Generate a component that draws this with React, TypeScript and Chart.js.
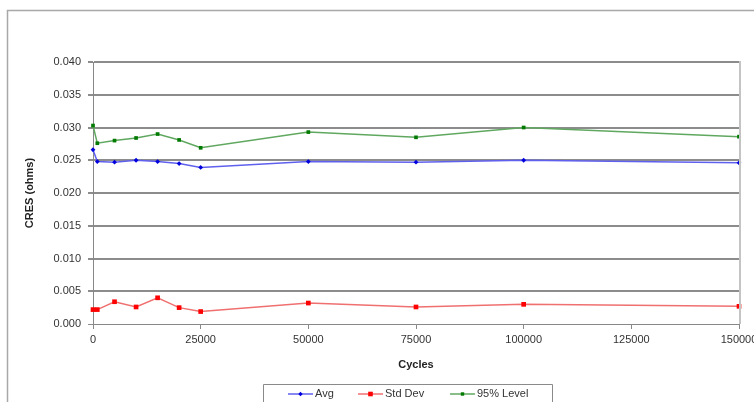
import React, { useEffect, useRef } from "react";
import { Chart, registerables } from "chart.js";

Chart.register(...registerables);

const cycles = [0, 1000, 5000, 10000, 15000, 20000, 25000, 50000, 75000, 100000, 150000];
const avgValues = [0.0266, 0.0248, 0.0247, 0.0250, 0.0248, 0.0245, 0.0239, 0.0248, 0.0247, 0.0250, 0.0246];
const stdDevValues = [0.0022, 0.0022, 0.0034, 0.0026, 0.0040, 0.0025, 0.0019, 0.0032, 0.0026, 0.0030, 0.0027];
const level95Values = [0.0303, 0.0276, 0.0280, 0.0284, 0.0290, 0.0281, 0.0269, 0.0293, 0.0285, 0.0300, 0.0286];
const seriesLabels = ["Avg", "Std Dev", "95% Level"];
const xTitle = "Cycles";
const yTitle = "CRES (ohms)";

const FONT = "'Liberation Sans', Arial, sans-serif";

const framePlugin = {
  id: "frame",
  beforeDraw(chart: any) {
    const ctx = chart.ctx;
    ctx.save();
    ctx.fillStyle = "#ffffff";
    ctx.fillRect(0, 0, chart.width, chart.height);
    ctx.strokeStyle = "#a8a8a8";
    ctx.lineWidth = 1.5;
    ctx.beginPath();
    ctx.moveTo(7.5, chart.height + 5);
    ctx.lineTo(7.5, 10.5);
    ctx.lineTo(chart.width + 5, 10.5);
    ctx.stroke();
    ctx.restore();
  },
  afterDraw(chart: any) {
    const ctx = chart.ctx;
    const area = chart.chartArea;
    ctx.save();
    ctx.strokeStyle = "#c4c4c4";
    ctx.lineWidth = 2;
    ctx.beginPath();
    ctx.moveTo(area.right + 1, area.top - 1);
    ctx.lineTo(area.right + 1, area.bottom);
    ctx.stroke();

    const boxL = 263.5, boxT = 384.5, boxR = 552.5;
    ctx.strokeStyle = "#8a8a8a";
    ctx.lineWidth = 1;
    ctx.beginPath();
    ctx.moveTo(boxL, chart.height + 5);
    ctx.lineTo(boxL, boxT);
    ctx.lineTo(boxR, boxT);
    ctx.lineTo(boxR, chart.height + 5);
    ctx.stroke();

    const starts = [288, 358, 450];
    const cy = 394;
    ctx.font = "11px " + FONT;
    ctx.textBaseline = "middle";
    ctx.textAlign = "left";
    chart.data.datasets.forEach((ds: any, i: number) => {
      const x0 = starts[i];
      ctx.strokeStyle = ds.borderColor;
      ctx.lineWidth = 1.5;
      ctx.beginPath();
      ctx.moveTo(x0, cy);
      ctx.lineTo(x0 + 25, cy);
      ctx.stroke();
      ctx.fillStyle = ds.pointBackgroundColor;
      const s = i === 1 ? 2.3 : 1.7;
      const mx = x0 + 12.5;
      if (i === 0) {
        ctx.beginPath();
        ctx.moveTo(mx, cy - 2.2);
        ctx.lineTo(mx + 2.2, cy);
        ctx.lineTo(mx, cy + 2.2);
        ctx.lineTo(mx - 2.2, cy);
        ctx.closePath();
        ctx.fill();
      } else {
        ctx.fillRect(mx - s, cy - s, 2 * s, 2 * s);
      }
      ctx.fillStyle = "#333333";
      ctx.fillText(ds.label, x0 + 27, cy);
    });
    ctx.restore();
  },
};

function makeData(values: number[]) {
  return cycles.map((c, i) => ({ x: c, y: values[i] }));
}

export default function App() {
  const ref = useRef<HTMLCanvasElement | null>(null);

  useEffect(() => {
    if (!ref.current) return;
    const chart = new Chart(ref.current, {
      type: "line",
      data: {
        datasets: [
          {
            label: seriesLabels[0],
            data: makeData(avgValues),
            borderColor: "#6060ee",
            backgroundColor: "#0000dd",
            pointBackgroundColor: "#0000dd",
            pointBorderColor: "#0000dd",
            pointBorderWidth: 0,
            pointStyle: "rectRot",
            pointRadius: 2.4,
            borderWidth: 1.5,
            tension: 0,
            clip: false,
          },
          {
            label: seriesLabels[1],
            data: makeData(stdDevValues),
            borderColor: "#f07070",
            backgroundColor: "#ff0000",
            pointBackgroundColor: "#ff0000",
            pointBorderColor: "#ff0000",
            pointBorderWidth: 0,
            pointStyle: "rect",
            pointRadius: 3.3,
            borderWidth: 1.5,
            tension: 0,
            clip: false,
          },
          {
            label: seriesLabels[2],
            data: makeData(level95Values),
            borderColor: "#60a860",
            backgroundColor: "#007a00",
            pointBackgroundColor: "#007a00",
            pointBorderColor: "#007a00",
            pointBorderWidth: 0,
            pointStyle: "rect",
            pointRadius: 2.6,
            borderWidth: 1.5,
            tension: 0,
            clip: false,
          },
        ],
      },
      options: {
        animation: false,
        responsive: false,
        maintainAspectRatio: false,
        layout: { padding: { top: 62, right: 15, left: 0, bottom: 0 } },
        plugins: {
          legend: { display: false },
          tooltip: { enabled: false },
          title: { display: false },
        },
        scales: {
          x: {
            type: "linear",
            min: 0,
            max: 150000,
            ticks: {
              stepSize: 25000,
              padding: 4,
              color: "#333333",
              font: { family: FONT, size: 11 },
              maxRotation: 0,
              callback: (v: any) => String(v),
            },
            grid: {
              drawOnChartArea: false,
              drawTicks: true,
              tickLength: 5,
              color: "#888888",
              lineWidth: 1,
            },
            border: { display: true, color: "#888888", width: 1 },
            title: {
              display: true,
              text: xTitle,
              color: "#222222",
              font: { family: FONT, size: 11, weight: "bold" },
              padding: { top: 0, bottom: 30 },
            },
            afterFit(scale: any) {
              scale.height = 78;
              scale.paddingLeft = 0;
              scale.paddingRight = 0;
            },
          },
          y: {
            type: "linear",
            min: 0,
            max: 0.04,
            ticks: {
              stepSize: 0.005,
              padding: 7,
              color: "#333333",
              font: { family: FONT, size: 11 },
              callback: (v: any) => Number(v).toFixed(3),
            },
            grid: {
              drawTicks: true,
              tickLength: 5,
              color: "#8c8c8c",
              lineWidth: (c: any) => (c.tick && c.tick.value === 0 ? 1 : 2),
            },
            border: { display: true, color: "#888888", width: 1 },
            title: {
              display: true,
              text: yTitle,
              color: "#222222",
              font: { family: FONT, size: 11, weight: "bold" },
              padding: { top: 23, bottom: 0 },
            },
            afterFit(scale: any) {
              scale.width = 93;
              scale.paddingTop = 0;
              scale.paddingBottom = 0;
            },
          },
        },
      },
      plugins: [framePlugin],
    });
    return () => chart.destroy();
  }, []);

  return (
    <div style={{ position: "fixed", left: 0, top: 0, width: 754, height: 402 }}>
      <canvas ref={ref} width={754} height={402} style={{ width: 754, height: 402, display: "block" }} />
    </div>
  );
}
